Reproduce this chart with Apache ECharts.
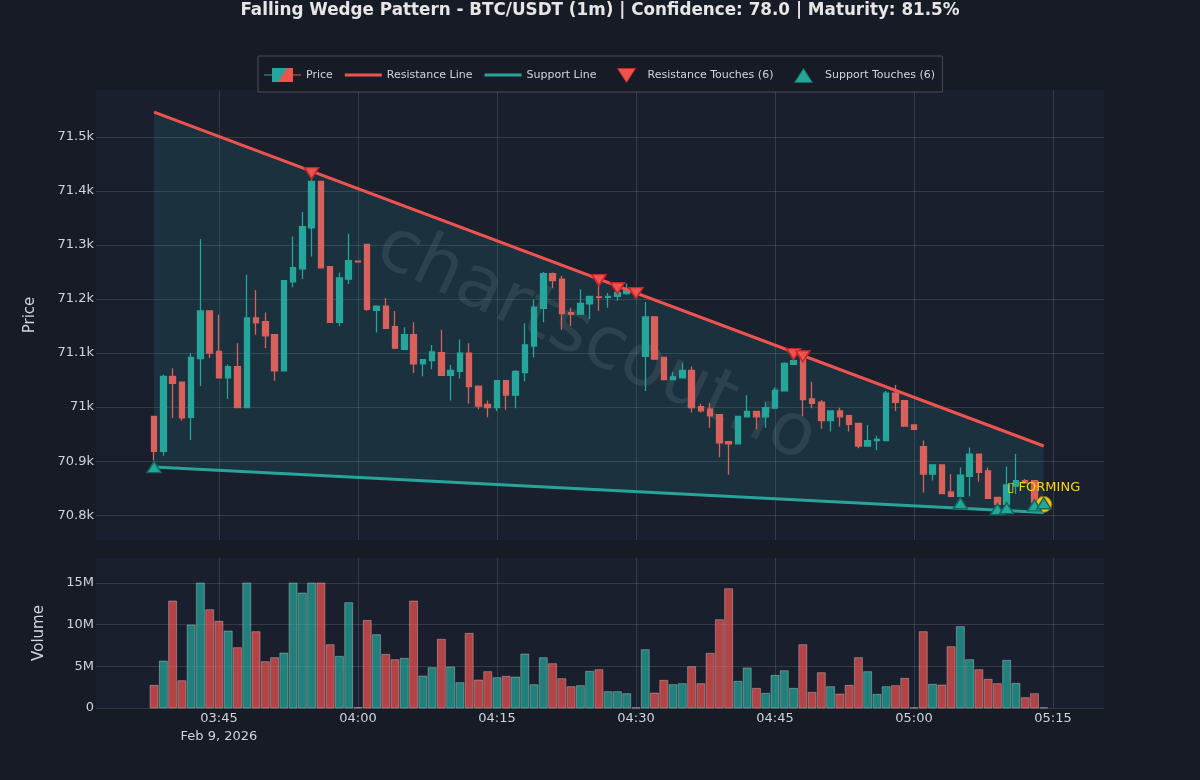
<!DOCTYPE html>
<html>
<head>
<meta charset="utf-8">
<title>Falling Wedge Pattern</title>
<script src="https://cdn.jsdelivr.net/npm/echarts@6/dist/echarts.min.js"></script>
<style>
  html, body { margin: 0; padding: 0; background: #161b26; }
  #chart { width: 1200px; height: 780px; }
</style>
</head>
<body>
<div id="chart"></div>
<script>
// minute candles, 9 Feb 2026 (UTC)
const times = [
  '03:38','03:39','03:40','03:41','03:42','03:43','03:44','03:45','03:46','03:47','03:48','03:49',
  '03:50','03:51','03:52','03:53','03:54','03:55','03:56','03:57','03:58','03:59','04:00','04:01',
  '04:02','04:03','04:04','04:05','04:06','04:07','04:08','04:09','04:10','04:11','04:12','04:13',
  '04:14','04:15','04:16','04:17','04:18','04:19','04:20','04:21','04:22','04:23','04:24','04:25',
  '04:26','04:27','04:28','04:29','04:30','04:31','04:32','04:33','04:34','04:35','04:36','04:37',
  '04:38','04:39','04:40','04:41','04:42','04:43','04:44','04:45','04:46','04:47','04:48','04:49',
  '04:50','04:51','04:52','04:53','04:54','04:55','04:56','04:57','04:58','04:59','05:00','05:01',
  '05:02','05:03','05:04','05:05','05:06','05:07','05:08','05:09','05:10','05:11','05:12','05:13','05:14'
];
const opens = [
  70983,70918,71057,71046,70981,71090,71178,71103,71054,71075,70999,71165,
  71158,71134,71067,71232,71256,71332,71418,71260,71157,71237,71270,71301,
  71179,71187,71149,71107,71134,71080,71086,71101,71059,71066,71100,71039,
  71005,70999,71049,71022,71064,71113,71183,71247,71237,71175,71172,71191,
  71204,71203,71205,71210,71212,71094,71167,71092,71051,71054,71068,71001,
  70996,70986,70936,70932,70982,70992,70982,70998,71030,71079,71092,71015,
  71009,70975,70993,70984,70970,70928,70938,70938,71026,71012,70967,70927,
  70876,70893,70843,70835,70872,70913,70882,70833,70820,70854,70864,70864,70816
];
const closes = [
  70918,71057,71044,70980,71092,71178,71100,71054,71075,70999,71165,71156,
  71132,71067,71234,71258,71334,71418,71258,71157,71239,71271,71269,71181,
  71187,71146,71109,71134,71080,71088,71102,71059,71068,71100,71038,71002,
  70999,71049,71022,71066,71115,71185,71247,71234,71173,71172,71192,71205,
  71203,71205,71212,71216,71211,71167,71089,71051,71056,71068,70999,70993,
  70984,70934,70932,70983,70992,70982,70999,71031,71081,71086,71014,71007,
  70975,70993,70982,70968,70928,70938,70940,71026,71009,70965,70959,70876,
  70893,70840,70835,70874,70913,70879,70831,70820,70856,70864,70860,70824,70815
];
const lows = [
  70901,70910,70980,70975,70939,71039,71091,71054,71015,70999,70999,71134,
  71109,71049,71067,71222,71237,71279,71258,71157,71150,71228,71269,71178,
  71138,71146,71109,71106,71063,71057,71070,71059,71012,71053,71006,70996,
  70981,70993,70995,70998,71048,71092,71157,71220,71143,71150,71171,71163,
  71178,71184,71197,71208,71208,71030,71089,71051,71051,71054,70990,70990,
  70962,70907,70875,70932,70982,70959,70962,70998,71030,71079,70983,70998,
  70960,70955,70964,70955,70924,70928,70920,70938,70993,70964,70959,70842,
  70864,70840,70835,70833,70835,70862,70831,70808,70812,70839,70858,70814,70812
];
const highs = [
  70983,71060,71072,71046,71100,71311,71178,71171,71079,71118,71245,71217,
  71175,71134,71234,71316,71361,71420,71418,71260,71249,71321,71271,71301,
  71187,71202,71178,71148,71157,71088,71115,71143,71078,71125,71118,71039,
  71012,71049,71049,71068,71155,71199,71250,71249,71243,71184,71218,71205,
  71243,71211,71220,71229,71214,71194,71167,71092,71065,71081,71075,71006,
  71008,70986,70936,70984,71022,70992,71010,71036,71083,71095,71095,71047,
  71013,70993,70999,70984,70970,70967,70947,71030,71041,71012,70967,70938,
  70893,70893,70876,70888,70925,70913,70888,70833,70890,70913,70867,70864,70824
];
// millions; the reference clips the tallest bars at 15M
const volumes = [
  2.72,5.64,12.84,3.28,9.96,15,11.8,10.4,9.24,7.24,15,9.16,
  5.56,6.04,6.6,15,13.8,15,15,7.6,6.2,12.64,0.05,10.5,
  8.8,6.44,5.8,5.96,12.84,3.84,4.84,8.24,4.92,3.04,8.96,3.36,
  4.36,3.64,3.8,3.72,6.48,2.8,6.04,5.32,3.52,2.56,2.68,4.4,
  4.6,1.96,1.96,1.72,0.03,7,1.8,3.32,2.8,2.92,4.96,2.92,
  6.56,10.6,14.32,3.2,4.8,2.36,1.76,3.92,4.48,2.36,7.6,1.88,
  4.24,2.56,1.68,2.72,6.04,4.36,1.64,2.56,2.68,3.56,0.03,9.16,
  2.84,2.76,7.36,9.76,5.8,4.6,3.44,2.92,5.72,2.96,1.24,1.72,0.03
];

const lineTimes = ['03:38', '05:14'];
const resistanceLine = [71546, 70928];
const supportLine = [70889, 70805];

const resistanceTimes = ['03:55', '04:26', '04:28', '04:30', '04:47', '04:48'];
const resistanceTouches = [71433, 71235, 71220, 71211, 71098, 71094];
const supportTimes = ['03:38', '05:05', '05:09', '05:10', '05:13', '05:14'];
const supportTouches = [70889, 70822, 70811, 70813, 70818, 70822];
const formingTime = '05:14';
const formingPrice = 70820;

const UP = '#26a69a', DOWN = '#ef5350';
const TXT = '#d1d4dc';
const GRIDLINE = 'rgba(255,255,255,0.12)';
const FONT = '"DejaVu Sans"';

function ts(hhmm, sec) {
  const p = hhmm.split(':');
  return Date.UTC(2026, 1, 9, +p[0], +p[1], sec || 0);
}

const xMin = ts('03:31', 44), xMax = ts('05:20', 30);

const candleData = times.map((t, i) => [ts(t), opens[i], closes[i], lows[i], highs[i]]);
const volumeData = times.map((t, i) => [ts(t), volumes[i] * 1e6]);

const triDown = 'path://M0,0L18,0L9,14Z';
const triUp = 'path://M9,0L18,14L0,14Z';
const candleIcon = 'path://M0,6.5H8V0H29V6.5H37V7.5H29V14H8V7.5H0Z';
const lineIcon = 'path://M0,0H37V3H0Z';

function timeLabel(v) {
  const s = echarts.time.format(v, '{HH}:{mm}', true);
  return s === '03:45' ? s + '\nFeb 9, 2026' : s;
}

function xAxisBase(idx, showLabel) {
  return {
    type: 'time', gridIndex: idx, min: xMin, max: xMax, splitNumber: 6,
    axisLine: { show: false }, axisTick: { show: false },
    axisLabel: {
      show: showLabel, color: TXT, fontSize: 13, fontFamily: FONT, lineHeight: 18,
      margin: 2, showMinLabel: false, showMaxLabel: false, hideOverlap: false,
      formatter: timeLabel
    },
    splitLine: { show: true, showMinLine: false, showMaxLine: false, lineStyle: { color: GRIDLINE, width: 1 } }
  };
}

const legendText = { color: TXT, fontSize: 11, fontFamily: FONT };

const chart = echarts.init(document.getElementById('chart'));
chart.setOption({
  useUTC: true,
  animation: false,
  backgroundColor: '#161b26',
  textStyle: { fontFamily: FONT },
  title: {
    text: 'Falling Wedge Pattern - BTC/USDT (1m) | Confidence: 78.0 | Maturity: 81.5%',
    left: 'center', top: -3,
    textStyle: { color: '#e6e6e6', fontSize: 16.8, fontWeight: 'bold', fontFamily: FONT }
  },
  legend: [
    {
      // right padding stretches the box over the two touch legends
      left: 258, top: 56, padding: [12, 346, 10, 6], itemGap: 12, itemWidth: 37, itemHeight: 14,
      backgroundColor: '#161b26', borderColor: 'rgba(255,255,255,0.22)', borderWidth: 1,
      textStyle: legendText,
      data: [
        { name: 'Price', icon: candleIcon, itemStyle: {
          color: new echarts.graphic.LinearGradient(0.2, 0, 0.8, 1, [
            { offset: 0.5, color: UP }, { offset: 0.5, color: DOWN }
          ]), borderWidth: 0 } },
        { name: 'Resistance Line', icon: lineIcon, itemStyle: { color: DOWN, borderWidth: 0 } },
        { name: 'Support Line', icon: lineIcon, itemStyle: { color: UP, borderWidth: 0 } }
      ]
    },
    {
      left: 617, top: 56, padding: [12, 0, 10, 0], itemWidth: 32, itemHeight: 14, z: 6,
      textStyle: legendText,
      data: [{ name: 'Resistance Touches (6)', icon: triDown, itemStyle: { borderWidth: 1 } }]
    },
    {
      left: 794, top: 56, padding: [12, 0, 10, 0], itemWidth: 33, itemHeight: 14, z: 6,
      textStyle: legendText,
      data: [{ name: 'Support Touches (6)', icon: triUp, itemStyle: { borderWidth: 1 } }]
    }
  ],
  graphic: [{
    type: 'text', z: 1, left: 365, top: 210, rotation: -25 * Math.PI / 180,
    style: { text: 'chartscout.io', fill: 'rgba(255,255,255,0.09)', font: '73px "DejaVu Sans"' }
  }],
  grid: [
    { left: 96, top: 90, width: 1008, height: 450, show: true, backgroundColor: '#1a1f2e', borderWidth: 0 },
    { left: 96, top: 558, width: 1008, height: 150, show: true, backgroundColor: '#1a1f2e', borderWidth: 0 }
  ],
  xAxis: [xAxisBase(0, false), xAxisBase(1, true)],
  yAxis: [
    {
      type: 'value', gridIndex: 0, min: 70754, max: 71587, splitNumber: 8, scale: true,
      name: 'Price', nameLocation: 'middle', nameGap: 58,
      nameTextStyle: { color: TXT, fontSize: 15, fontFamily: FONT },
      axisLine: { show: false }, axisTick: { show: false },
      axisLabel: {
        color: TXT, fontSize: 13, margin: 2, showMinLabel: false, showMaxLabel: false,
        formatter: v => (v / 1000) + 'k'
      },
      splitLine: { show: true, showMinLine: false, showMaxLine: false, lineStyle: { color: GRIDLINE, width: 1 } }
    },
    {
      type: 'value', gridIndex: 1, min: 0, max: 18e6, interval: 5e6,
      name: 'Volume', nameLocation: 'middle', nameGap: 49,
      nameTextStyle: { color: TXT, fontSize: 15, fontFamily: FONT },
      axisLine: { show: false }, axisTick: { show: false },
      axisLabel: {
        color: TXT, fontSize: 13, margin: 2, showMaxLabel: false,
        formatter: v => v === 0 ? '0' : (v / 1e6) + 'M'
      },
      splitLine: { show: true, showMaxLine: false, lineStyle: { color: GRIDLINE, width: 1 } }
    }
  ],
  series: [
    {
      // wedge fill between the two trend lines
      type: 'custom', name: 'wedge', xAxisIndex: 0, yAxisIndex: 0, z: 1, silent: true, clip: true,
      data: [[ts(lineTimes[0]), resistanceLine[0]]],
      renderItem: function (params, api) {
        const pts = [
          api.coord([ts(lineTimes[0]), resistanceLine[0]]),
          api.coord([ts(lineTimes[1]), resistanceLine[1]]),
          api.coord([ts(lineTimes[1]), supportLine[1]]),
          api.coord([ts(lineTimes[0]), supportLine[0]])
        ];
        return { type: 'polygon', shape: { points: pts }, style: { fill: 'rgba(38,166,154,0.14)' } };
      }
    },
    {
      type: 'candlestick', name: 'Price', xAxisIndex: 0, yAxisIndex: 0, z: 3, barWidth: 6,
      data: candleData,
      itemStyle: {
        color: UP, color0: '#d9615c', borderColor: UP, borderColor0: '#d9615c', borderWidth: 1.3
      }
    },
    {
      type: 'line', name: 'Resistance Line', xAxisIndex: 0, yAxisIndex: 0, z: 4, showSymbol: false,
      lineStyle: { color: DOWN, width: 3 }, itemStyle: { color: DOWN },
      data: lineTimes.map((t, i) => [ts(t), resistanceLine[i]])
    },
    {
      type: 'line', name: 'Support Line', xAxisIndex: 0, yAxisIndex: 0, z: 4, showSymbol: false,
      lineStyle: { color: UP, width: 3 }, itemStyle: { color: UP },
      data: lineTimes.map((t, i) => [ts(t), supportLine[i]])
    },
    {
      type: 'scatter', name: 'FORMING', xAxisIndex: 0, yAxisIndex: 0, z: 5, symbol: 'circle', symbolSize: 16,
      itemStyle: { color: '#ffc107', borderColor: '#8a6d10', borderWidth: 1, opacity: 1 },
      label: {
        show: true, position: 'top', distance: 2, color: '#ffd700', fontSize: 13, fontFamily: FONT,
        formatter: '\u25AF FORMING'
      },
      data: [[ts(formingTime), formingPrice]]
    },
    {
      type: 'scatter', name: 'Resistance Touches (6)', xAxisIndex: 0, yAxisIndex: 0, z: 6,
      symbol: triDown, symbolSize: [14, 11],
      itemStyle: { color: DOWN, borderColor: '#c62828', borderWidth: 1.5, opacity: 1 },
      data: resistanceTimes.map((t, i) => [ts(t), resistanceTouches[i]])
    },
    {
      type: 'scatter', name: 'Support Touches (6)', xAxisIndex: 0, yAxisIndex: 0, z: 6,
      symbol: triUp, symbolSize: [14, 11],
      itemStyle: { color: UP, borderColor: '#0b6b5d', borderWidth: 1.5, opacity: 1 },
      data: supportTimes.map((t, i) => [ts(t), supportTouches[i]])
    },
    {
      // custom bars: a bar series on a time axis pads the axis extent and shifts the ticks
      type: 'custom', name: 'Volume', xAxisIndex: 1, yAxisIndex: 1,
      encode: { x: 0, y: 1 },
      data: volumeData,
      renderItem: function (params, api) {
        const top = api.coord([api.value(0), api.value(1)]);
        const base = api.coord([api.value(0), 0]);
        const i = params.dataIndex;
        return {
          type: 'rect',
          shape: { x: top[0] - 4, y: top[1], width: 8, height: base[1] - top[1] },
          style: {
            fill: closes[i] >= opens[i] ? 'rgba(38,166,154,0.72)' : 'rgba(239,83,80,0.72)',
            stroke: 'rgba(255,255,255,0.3)', lineWidth: 1
          }
        };
      }
    }
  ]
});
</script>
</body>
</html>
